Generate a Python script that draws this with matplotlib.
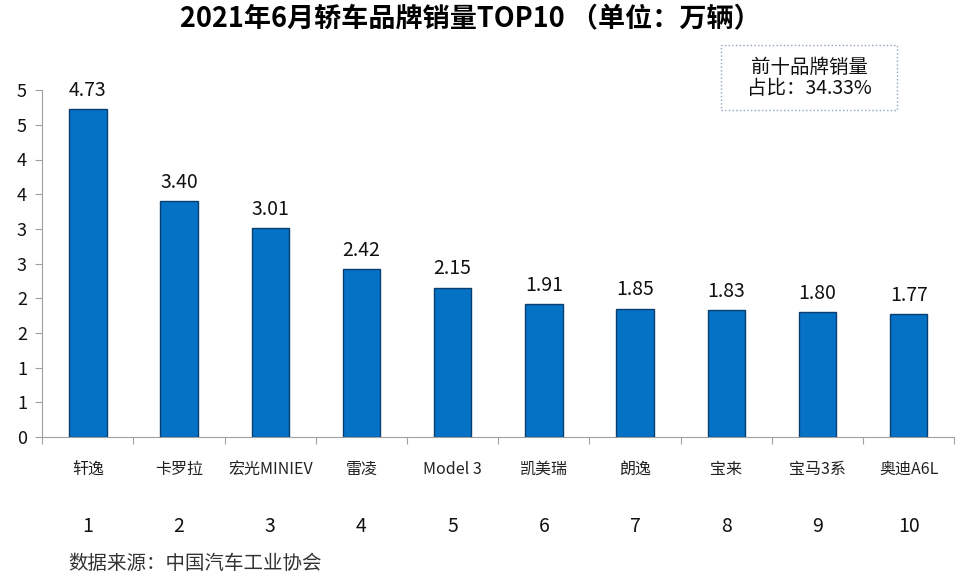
import numpy as np
import matplotlib
matplotlib.use("Agg")
import matplotlib.pyplot as plt
from matplotlib.ticker import FuncFormatter, FixedLocator, MultipleLocator
from matplotlib.patches import FancyBboxPatch

plt.rcParams['font.family'] = ['Noto Sans CJK SC', 'DejaVu Sans']

# data (unit: 10k vehicles)
brands = ['轩逸', '卡罗拉', '宏光MINIEV', '雷凌', 'Model 3', '凯美瑞', '朗逸', '宝来', '宝马3系', '奥迪A6L']
sales = [4.73, 3.40, 3.01, 2.42, 2.15, 1.91, 1.85, 1.83, 1.80, 1.77]
ranks = ['1', '2', '3', '4', '5', '6', '7', '8', '9', '10']
title = '2021年6月轿车品牌销量TOP10 （单位：万辆）'
share_text = '前十品牌销量\n占比：34.33%'
source = '数据来源：中国汽车工业协会'

fig = plt.figure(figsize=(9.6, 5.8), dpi=100)
ax = fig.add_axes([0.044, 0.2466, 0.95, 0.598])

x = np.arange(len(brands))
ax.bar(x, sales, width=0.41, color='#0572C6', edgecolor='#0A3E70', linewidth=1.0, zorder=3)

for xi, v in zip(x, sales):
    ax.annotate('%.2f' % v, (xi, v), xytext=(0, 6), textcoords='offset points',
                ha='center', va='bottom', fontsize=14, color='#111111')

ax.set_xlim(-0.5, len(brands) - 0.5)
ax.set_ylim(0, 5)

# excel-style rounded tick labels on a 0.5 step
ax.yaxis.set_major_locator(MultipleLocator(0.5))
ax.yaxis.set_major_formatter(FuncFormatter(lambda v, p: '%d' % int(np.floor(v + 0.5))))
ax.tick_params(axis='y', labelsize=13, length=5, color='#A0A0A0', pad=6, labelcolor='#111111')

ax.xaxis.set_major_locator(FixedLocator(np.arange(-0.5, len(brands), 1.0)))
ax.set_xticklabels([])
ax.tick_params(axis='x', length=5, color='#A0A0A0')
for xi, b in zip(x, brands):
    ax.annotate(b, (xi, 0), xytext=(0, -17), textcoords='offset points',
                ha='center', va='top', fontsize=11.5, color='#222222')

for xi, r in zip(x, ranks):
    ax.annotate(r, (xi, 0), xytext=(0, -57), textcoords='offset points',
                ha='center', va='top', fontsize=14, color='#111111')

for s in ['top', 'right']:
    ax.spines[s].set_visible(False)
for s in ['left', 'bottom']:
    ax.spines[s].set_color('#A0A0A0')

fig.text(0.49, 1 - 19 / 580, title, ha='center', va='center', fontsize=19.5, fontweight='bold')

box = FancyBboxPatch((721 / 960, 1 - 110 / 580), 176 / 960, 65 / 580,
                     boxstyle='square,pad=0', transform=fig.transFigure,
                     facecolor='white', edgecolor='#8FA3C0', linestyle=':', linewidth=1.0)
fig.patches.append(box)
fig.text(809 / 960, 1 - 78 / 580, share_text, ha='center', va='center',
         fontsize=14, color='#111111', linespacing=1.05)

fig.text(68 / 960, 1 - 563 / 580, source, ha='left', va='center', fontsize=14, color='#333333')

fig.savefig('out.png', dpi=100)
